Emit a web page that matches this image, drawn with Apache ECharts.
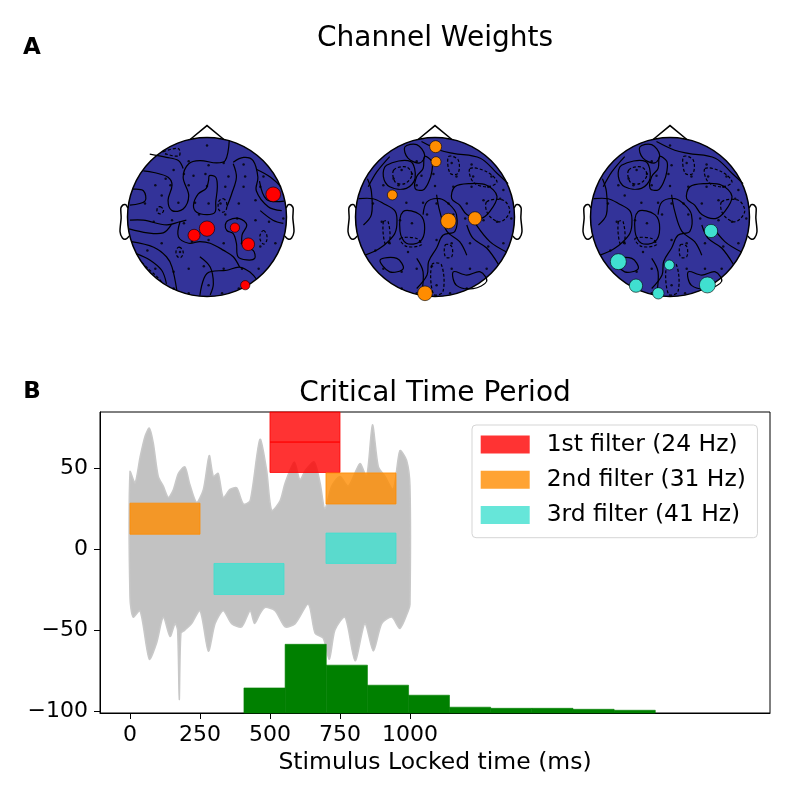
<!DOCTYPE html>
<html lang="en">
<head>
<meta charset="UTF-8">
<title>Channel Weights / Critical Time Period</title>
<script src="https://cdn.jsdelivr.net/npm/echarts@6.0.0/dist/echarts.min.js"></script>
<style>html,body{margin:0;padding:0;background:#fff;}</style>
</head>
<body>
<div id="chart" style="width:800px;height:800px;"></div>
<script>
// ---------- panel B : critical time period ----------
var xTicks = [0, 250, 500, 750, 1000];
var yTicks = [-100, -50, 0, 50];

// envelope of the grey single-channel traces (ms, value)
var traceUpperT = [0,18,36,54,69,83,101,119,137,155,173,196,214,238,262,283,298,315,333,357,381,405,429,464,488,506,536,554,587,607,627,658,679,696,720,750,780,821,845,866,887,911,940,964,988,1000];
var traceUpperV = [48,41,57,70,75,66,45,39,32,37,47,51,40,29,37,58,45,47,32,37,38,28,30,68,49,24,30,41,54,43,49,54,41,25,39,45,39,53,45,77,51,45,37,61,55,39];
var traceLowerT = [0,11,36,69,95,119,143,161,170,176,182,196,220,250,280,304,333,363,399,429,445,464,482,518,554,590,637,661,690,712,732,768,804,839,869,899,935,964,994,1000];
var traceLowerV = [-30,-42,-38,-68,-58,-42,-54,-46,-50,-93,-52,-50,-46,-38,-63,-46,-38,-46,-48,-38,-46,-40,-36,-38,-48,-46,-34,-52,-55,-68,-50,-42,-69,-46,-63,-46,-42,-49,-38,-34];

var filterNames = ['1st filter (24 Hz)', '2nd filter (31 Hz)', '3rd filter (41 Hz)'];
// [start ms, end ms, low, high]
var filter1Rects = [[500, 750, 47.5, 66.3], [500, 750, 66.3, 86]];
var filter2Rects = [[0, 250, 9.3, 28.5], [700, 950, 28, 47.2]];
var filter3Rects = [[300, 550, -28, -8.8], [700, 950, -8.8, 10]];

// histogram of critical times
var histEdges = [407, 554, 701, 848, 995, 1141, 1288, 1435, 1582, 1729, 1876];
var histTops = [-85.8, -58.8, -71.7, -84.1, -90.3, -97.7, -98.4, -98.4, -99.0, -99.6];
var histBase = -102;

// ---------- panel A : channel weights ----------
var noseU = [-0.209, 0, 0.209];
var noseV = [0.978, 1.15, 0.978];
var earU = [0.994, 1.02, 1.036, 1.06, 1.084, 1.08, 1.094, 1.064, 1.02, 0.978];
var earV = [0.111, 0.155, 0.157, 0.149, 0.111, -0.011, -0.186, -0.263, -0.277, -0.24];

var sensorU = [0.00, -0.23,0.21,0.02,0.46, -0.42,-0.52,-0.29,-0.17,-0.02,0.27,0.48,0.71, -0.65,-0.46,-0.23,0.00,0.23,0.46,0.67,0.86, -0.78,-0.57,-0.36,-0.15,0.02,0.17,0.40,0.61,0.82, -0.67,-0.44,-0.29,-0.10,0.23,0.38,0.61,0.78,0.96, -0.75,-0.57,-0.34,-0.19,0.02,0.21,0.44,0.67,0.86, -0.65,-0.42,-0.23,-0.04,0.21,0.44,0.65, -0.42,-0.23,0.02,0.19,0.40];
var sensorV = [0.90, 0.70,0.68,0.65,0.66, 0.59,0.48,0.54,0.52,0.54,0.51,0.51,0.51, 0.40,0.40,0.40,0.39,0.38,0.38,0.38,0.34, 0.17,0.27,0.18,0.18,0.17,0.17,0.17,0.21,0.23, -0.06,-0.04,-0.08,0.03,0.03,-0.02,-0.04,-0.06,-0.02, -0.42,-0.33,-0.44,-0.31,-0.29,-0.33,-0.33,-0.37,-0.33, -0.65,-0.69,-0.65,-0.62,-0.65,-0.65,-0.65, -0.90,-0.96,-0.86,-0.96,-0.90];

var head1U = [0.833, 0.000, -0.163, 0.351, 0.519, 0.481];
var head1V = [0.285, -0.146, -0.230, -0.134, -0.343, -0.858];
var head1W = [0.92, 0.96, 0.75, 0.58, 0.79, 0.58];
var head2U = [0.008, 0.013, -0.537, 0.168, 0.503, -0.126];
var head2V = [0.885, 0.696, 0.277, -0.050, -0.017, -0.960];
var head2W = [0.75, 0.62, 0.62, 0.96, 0.83, 0.92];
var head3U = [0.516, -0.650, -0.008, -0.428, 0.470, -0.147];
var head3V = [-0.176, -0.562, -0.604, -0.864, -0.855, -0.960];
var head3W = [0.83, 1.00, 0.62, 0.83, 1.00, 0.71];

// contour lines (head radius = 1)
var contours1 = [
    {dash: false, closed: true, pts: [[0.03,0.52],[0.11,0.50],[0.13,0.38],[0.11,0.19],[0.10,0.06],[0.00,0.03],[-0.13,0.06],[-0.17,0.15],[-0.11,0.29],[-0.01,0.36],[0.02,0.46]]},
    {dash: true, closed: true, pts: [[0.20,0.23],[0.24,0.20],[0.25,0.15],[0.24,0.09],[0.20,0.06],[0.15,0.09],[0.14,0.15],[0.15,0.20]]},
    {dash: true, closed: true, pts: [[-0.59,0.13],[-0.55,0.10],[-0.55,0.07],[-0.58,0.04],[-0.62,0.05],[-0.63,0.08],[-0.62,0.12]]},
    {dash: true, closed: true, pts: [[-0.35,-0.38],[-0.31,-0.41],[-0.30,-0.46],[-0.33,-0.51],[-0.37,-0.50],[-0.39,-0.45],[-0.38,-0.40]]},
    {dash: true, closed: true, pts: [[0.71,-0.17],[0.75,-0.22],[0.75,-0.30],[0.71,-0.34],[0.67,-0.29],[0.67,-0.22]]},
    {dash: false, closed: true, pts: [[0.27,-0.04],[0.41,-0.02],[0.50,-0.10],[0.44,-0.23],[0.46,-0.38],[0.58,-0.42],[0.60,-0.52],[0.50,-0.54],[0.39,-0.50],[0.37,-0.33],[0.33,-0.21],[0.25,-0.17],[0.23,-0.10]]},
    {dash: false, closed: false, pts: [[-0.95,-0.31],[-0.67,-0.38],[-0.51,-0.50],[-0.44,-0.63],[-0.38,-0.92]]},
    {dash: false, closed: false, pts: [[-0.89,-0.46],[-0.72,-0.54],[-0.57,-0.67],[-0.51,-0.84]]},
    {dash: true, closed: false, pts: [[-0.82,-0.57],[-0.74,-0.65],[-0.63,-0.75],[-0.57,-0.82]]},
    {dash: false, closed: false, pts: [[-0.80,0.58],[-0.67,0.56],[-0.49,0.50],[-0.44,0.40],[-0.49,0.21],[-0.44,0.08],[-0.30,0.10],[-0.23,0.27],[-0.30,0.50],[-0.23,0.67],[-0.09,0.71],[0.12,0.68],[0.23,0.71],[0.28,0.96]]},
    {dash: false, closed: false, pts: [[0.33,0.69],[0.46,0.75],[0.58,0.71],[0.64,0.50],[0.62,0.33],[0.77,0.13],[0.94,0.08]]},
    {dash: true, closed: true, pts: [[-0.55,0.82],[-0.36,0.86],[-0.35,0.77],[-0.51,0.79]]},
    {dash: false, closed: false, pts: [[-0.09,-0.99],[0.00,-0.71],[0.25,-0.67],[0.41,-0.63],[0.55,-0.70],[0.62,-0.78]]},
    {dash: false, closed: false, pts: [[0.62,0.60],[0.80,0.50],[0.93,0.38]]},
    {dash: false, closed: false, pts: [[0.66,0.45],[0.75,0.22],[0.97,0.20]]},
    {dash: false, closed: false, pts: [[-0.93,0.35],[-0.80,0.33],[-0.78,0.20],[-0.97,0.15]]},
    {dash: false, closed: false, pts: [[-0.98,-0.15],[-0.75,-0.20],[-0.55,-0.20],[-0.45,-0.10]]},
    {dash: false, closed: false, pts: [[-0.97,-0.04],[-0.80,-0.04],[-0.51,-0.10],[-0.34,-0.06],[-0.26,-0.04]]},
    {dash: false, closed: false, pts: [[-0.34,-0.06],[-0.36,-0.25],[-0.23,-0.33],[-0.09,-0.31],[0.04,-0.33],[0.21,-0.42],[0.33,-0.50],[0.41,-0.63]]},
    {dash: false, closed: false, pts: [[-0.72,0.79],[-0.51,0.75],[-0.36,0.71],[-0.30,0.61]]},
    {dash: false, closed: false, pts: [[0.25,0.13],[0.31,0.29],[0.37,0.50],[0.33,0.67]]},
    {dash: false, closed: false, pts: [[0.67,0.08],[0.83,-0.04],[0.96,-0.08]]},
    {dash: false, closed: false, pts: [[-0.09,-0.50],[0.04,-0.63],[0.08,-0.84],[0.04,-0.98]]}
];
var contours23 = [
    {dash: false, closed: true, pts: [[-0.38,0.88],[-0.23,0.91],[-0.13,0.78],[-0.19,0.68],[-0.34,0.74]]},
    {dash: true, closed: true, pts: [[-0.52,0.59],[-0.36,0.63],[-0.29,0.53],[-0.38,0.42],[-0.50,0.44]]},
    {dash: false, closed: true, pts: [[-0.61,0.65],[-0.31,0.70],[-0.25,0.49],[-0.36,0.36],[-0.57,0.38],[-0.65,0.51]]},
    {dash: false, closed: true, pts: [[-0.13,0.76],[-0.04,0.70],[-0.04,0.57],[-0.08,0.44],[-0.15,0.34],[-0.25,0.36],[-0.23,0.51],[-0.15,0.61]]},
    {dash: true, closed: true, pts: [[0.17,0.76],[0.29,0.72],[0.29,0.55],[0.19,0.55]]},
    {dash: false, closed: true, pts: [[0.25,0.38],[0.44,0.42],[0.65,0.40],[0.78,0.26],[0.69,0.07],[0.57,-0.02],[0.40,0.03],[0.31,0.15],[0.21,0.23]]},
    {dash: true, closed: true, pts: [[0.65,0.19],[0.86,0.21],[0.94,0.07],[0.82,-0.06],[0.67,0.03]]},
    {dash: false, closed: true, pts: [[-0.40,0.07],[-0.19,0.03],[-0.13,-0.14],[-0.19,-0.31],[-0.36,-0.33],[-0.44,-0.18]]},
    {dash: true, closed: true, pts: [[-0.44,-0.27],[-0.23,-0.27],[-0.17,-0.35],[-0.36,-0.37]]},
    {dash: true, closed: true, pts: [[-0.65,-0.06],[-0.59,-0.06],[-0.57,-0.31],[-0.63,-0.33]]},
    {dash: true, closed: true, pts: [[0.13,-0.35],[0.21,-0.37],[0.21,-0.50],[0.13,-0.50]]},
    {dash: false, closed: true, pts: [[-0.69,-0.54],[-0.48,-0.52],[-0.40,-0.65],[-0.57,-0.69]]},
    {dash: true, closed: true, pts: [[-0.04,-0.60],[0.08,-0.60],[0.10,-0.94],[-0.02,-0.97]]},
    {dash: false, closed: false, pts: [[-0.85,0.48],[-0.80,0.32],[-0.80,0.03],[-0.90,-0.10]]},
    {dash: false, closed: false, pts: [[-0.23,-0.52],[-0.15,-0.69],[-0.17,-0.98]]},
    {dash: false, closed: false, pts: [[0.52,-0.10],[0.69,-0.31],[0.90,-0.44]]},
    {dash: false, closed: false, pts: [[-0.17,0.95],[0.06,0.84],[0.23,0.80],[0.57,0.74],[0.78,0.55],[0.92,0.42]]},
    {dash: false, closed: false, pts: [[0.02,0.28],[0.06,0.07],[0.15,-0.18],[0.31,-0.31],[0.40,-0.48]]},
    {dash: false, closed: false, pts: [[-0.96,0.23],[-0.78,0.23],[-0.65,0.17],[-0.50,0.07],[-0.48,-0.10],[-0.52,-0.23],[-0.69,-0.39],[-0.88,-0.48]]},
    {dash: false, closed: false, pts: [[-0.15,0.03],[-0.10,0.19],[0.06,0.23],[0.19,0.15],[0.27,0.03],[0.25,-0.18],[0.10,-0.23],[0.02,-0.39],[-0.08,-0.56],[-0.10,-0.73],[-0.23,-0.90]]},
    {dash: false, closed: false, pts: [[0.40,-0.10],[0.48,-0.27],[0.65,-0.39],[0.80,-0.60]]},
    {dash: false, closed: true, pts: [[0.23,-0.69],[0.40,-0.73],[0.57,-0.69],[0.65,-0.81],[0.48,-0.90],[0.27,-0.86]]},
    {dash: true, closed: true, pts: [[0.44,0.61],[0.65,0.57],[0.78,0.44],[0.65,0.38],[0.48,0.44]]},
    {dash: false, closed: false, pts: [[-0.84,0.38],[-0.73,0.57],[-0.57,0.76]]}
];

var headFill = '#333399';
var headLimit = 1.258;       // axis half-range in head radii
var markerScale = 16;        // px diameter for weight 1

var chart = echarts.init(document.getElementById('chart'), null, {renderer: 'canvas'});

function xy(us, vs) {
    return us.map(function (u, i) { return [u, vs[i]]; });
}

function renderHead(params, api) {
    var c = api.coord([0, 0]);
    var r = api.size([1, 0])[0];
    return {type: 'circle', shape: {cx: c[0], cy: c[1], r: r}, style: {fill: headFill}};
}

function renderOutline(params, api) {
    var c = api.coord([0, 0]);
    var r = api.size([1, 0])[0];
    var line = {fill: 'none', stroke: '#000', lineWidth: 1.5};
    var nose = noseU.map(function (u, i) { return api.coord([u, noseV[i]]); });
    var earL = earU.map(function (u, i) { return api.coord([-u, earV[i]]); });
    var earR = earU.map(function (u, i) { return api.coord([u, earV[i]]); });
    return {type: 'group', children: [
        {type: 'circle', shape: {cx: c[0], cy: c[1], r: r}, style: line},
        {type: 'polyline', shape: {points: nose}, style: line},
        {type: 'polyline', shape: {points: earL, smooth: 0.3}, style: line},
        {type: 'polyline', shape: {points: earR, smooth: 0.3}, style: line}
    ]};
}

function headSeries(gi, contours, us, vs, ws, color) {
    return [
        {type: 'custom', xAxisIndex: gi, yAxisIndex: gi, z: 1, silent: true,
            data: [[0, 0]], encode: {x: 0, y: 1}, renderItem: renderHead},
        {type: 'custom', xAxisIndex: gi, yAxisIndex: gi, z: 2, silent: true,
            data: contours.map(function (c, i) { return [c.pts[0][0], c.pts[0][1], i]; }),
            encode: {x: 0, y: 1},
            renderItem: function (params, api) {
                var c = contours[params.dataIndex];
                var pts = c.pts.map(function (p) { return api.coord(p); });
                return {type: c.closed ? 'polygon' : 'polyline',
                    shape: {points: pts, smooth: 0.35},
                    style: {fill: 'none', stroke: '#000', lineWidth: 1.2, lineDash: c.dash ? [3, 2] : null}};
            }},
        {type: 'scatter', xAxisIndex: gi, yAxisIndex: gi, z: 3, silent: true,
            data: xy(sensorU, sensorV), symbolSize: 2.5,
            itemStyle: {color: '#000'}},
        {type: 'custom', xAxisIndex: gi, yAxisIndex: gi, z: 4, silent: true,
            data: [[0, 0]], encode: {x: 0, y: 1}, renderItem: renderOutline},
        {type: 'scatter', xAxisIndex: gi, yAxisIndex: gi, z: 5, silent: true, clip: false,
            data: us.map(function (u, i) { return [u, vs[i], ws[i]]; }),
            symbolSize: function (val) { return val[2] * markerScale; },
            itemStyle: {color: color, borderColor: 'rgba(0,0,0,0.75)', borderWidth: 0.8, opacity: 1}}
    ];
}

function rectSeries(name, rects, color) {
    return {
        type: 'custom', name: name, xAxisIndex: 0, yAxisIndex: 0, z: 5, silent: true,
        data: rects, encode: {x: [0, 1], y: [2, 3]},
        itemStyle: {color: color},
        renderItem: function (params, api) {
            var p0 = api.coord([api.value(0), api.value(3)]);
            var p1 = api.coord([api.value(1), api.value(2)]);
            var shape = echarts.graphic.clipRectByRect(
                {x: p0[0], y: p0[1], width: p1[0] - p0[0], height: p1[1] - p0[1]},
                {x: params.coordSys.x, y: params.coordSys.y, width: params.coordSys.width, height: params.coordSys.height});
            return shape && {type: 'rect', shape: shape, style: {fill: color, stroke: color, lineWidth: 1}};
        }
    };
}

var histData = histTops.map(function (t, i) { return [histEdges[i], histEdges[i + 1], t]; });

var tickFont = {fontFamily: 'DejaVu Sans', fontSize: 22, color: '#000'};
var nameFont = {fontFamily: 'DejaVu Sans', fontSize: 23.5, color: '#000'};
var hiddenAxis = {show: false, min: -headLimit, max: headLimit};
var headGrid = {top: 117, width: 200, height: 200};

var option = {
    animation: false,
    backgroundColor: '#fff',
    graphic: [
        {type: 'text', x: 435, y: 39, style: {text: 'Channel Weights', font: '28px "DejaVu Sans"', fill: '#000', textAlign: 'center', textVerticalAlign: 'middle'}},
        {type: 'text', x: 435, y: 394, style: {text: 'Critical Time Period', font: '28px "DejaVu Sans"', fill: '#000', textAlign: 'center', textVerticalAlign: 'middle'}},
        {type: 'text', x: 32, y: 48, style: {text: 'A', font: 'bold 23px "DejaVu Sans"', fill: '#000', textAlign: 'center', textVerticalAlign: 'middle'}},
        {type: 'text', x: 32, y: 392, style: {text: 'B', font: 'bold 23px "DejaVu Sans"', fill: '#000', textAlign: 'center', textVerticalAlign: 'middle'}}
    ],
    legend: {
        data: filterNames,
        orient: 'vertical',
        left: 472, top: 425,
        icon: 'rect',
        itemWidth: 49, itemHeight: 18, itemGap: 12.2,
        padding: [8, 11.6, 11.3, 8.7],
        backgroundColor: '#fff',
        borderColor: '#d5d5d5', borderWidth: 1, borderRadius: 4,
        textStyle: {fontFamily: 'DejaVu Sans', fontSize: 23.4, color: '#000', lineHeight: 22.5, padding: [0, 0, 0, 12]}
    },
    grid: [
        {left: 100, top: 412, width: 670, height: 301, show: true, borderColor: '#000', borderWidth: 1, backgroundColor: 'transparent'},
        Object.assign({left: 107}, headGrid),
        Object.assign({left: 335}, headGrid),
        Object.assign({left: 570}, headGrid)
    ],
    xAxis: [
        {
            type: 'value', gridIndex: 0, min: -107.1, max: 2285.7,
            name: 'Stimulus Locked time (ms)', nameLocation: 'middle', nameGap: 38,
            nameTextStyle: nameFont,
            axisLine: {show: true, onZero: false, lineStyle: {color: '#000', width: 1}},
            axisTick: {show: true, length: 6, lineStyle: {color: '#000'}, customValues: xTicks},
            axisLabel: Object.assign({customValues: xTicks, margin: 11,
                formatter: function (v) { return String(v); }}, tickFont),
            splitLine: {show: false}
        },
        Object.assign({gridIndex: 1}, hiddenAxis),
        Object.assign({gridIndex: 2}, hiddenAxis),
        Object.assign({gridIndex: 3}, hiddenAxis)
    ],
    yAxis: [
        {
            type: 'value', gridIndex: 0, min: -101.3, max: 84.9,
            axisLine: {show: true, onZero: false, lineStyle: {color: '#000', width: 1}},
            axisTick: {show: true, length: 6, lineStyle: {color: '#000'}, customValues: yTicks},
            axisLabel: Object.assign({customValues: yTicks, margin: 12,
                formatter: function (v) { return String(v).replace('-', '\u2212'); }}, tickFont),
            splitLine: {show: false}
        },
        Object.assign({gridIndex: 1}, hiddenAxis),
        Object.assign({gridIndex: 2}, hiddenAxis),
        Object.assign({gridIndex: 3}, hiddenAxis)
    ],
    series: [
        {
            type: 'custom', name: 'traces', xAxisIndex: 0, yAxisIndex: 0, z: 2, silent: true,
            data: [[0, 0]], encode: {x: 0, y: 1},
            renderItem: function (params, api) {
                var pts = [];
                traceUpperT.forEach(function (t, i) { pts.push(api.coord([t, traceUpperV[i]])); });
                for (var i = traceLowerT.length - 1; i >= 0; i--) {
                    pts.push(api.coord([traceLowerT[i], traceLowerV[i]]));
                }
                return {type: 'polygon', shape: {points: pts, smooth: 0.25},
                    style: {fill: '#c2c2c2', stroke: '#c8c8c8', lineWidth: 1.5}};
            }
        },
        {
            type: 'custom', name: 'histogram', xAxisIndex: 0, yAxisIndex: 0, z: 3, silent: true,
            data: histData, encode: {x: [0, 1], y: 2},
            renderItem: function (params, api) {
                var p0 = api.coord([api.value(0), api.value(2)]);
                var p1 = api.coord([api.value(1), histBase]);
                var shape = echarts.graphic.clipRectByRect(
                    {x: p0[0], y: p0[1], width: p1[0] - p0[0], height: p1[1] - p0[1]},
                    {x: params.coordSys.x, y: params.coordSys.y, width: params.coordSys.width, height: params.coordSys.height});
                return shape && {type: 'rect', shape: shape, style: {fill: '#008000', stroke: '#008000', lineWidth: 0.6}};
            }
        },
        rectSeries(filterNames[0], filter1Rects, 'rgba(255,0,0,0.8)'),
        rectSeries(filterNames[1], filter2Rects, 'rgba(255,140,0,0.8)'),
        rectSeries(filterNames[2], filter3Rects, 'rgba(64,224,208,0.8)')
    ]
        .concat(headSeries(1, contours1, head1U, head1V, head1W, '#ff0000'))
        .concat(headSeries(2, contours23, head2U, head2V, head2W, '#ff8c00'))
        .concat(headSeries(3, contours23, head3U, head3V, head3W, '#40e0d0'))
};

chart.setOption(option);
</script>
</body>
</html>
